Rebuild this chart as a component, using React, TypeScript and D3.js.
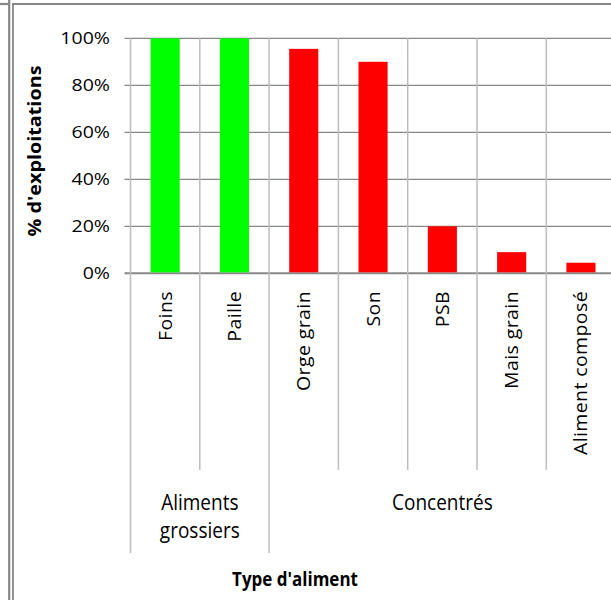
import * as d3 from 'd3';
import { useRef, useEffect } from 'react';

// Données
const categories = ['Foins', 'Paille', 'Orge grain', 'Son', 'PSB', 'Mais grain', 'Aliment composé'];
const values = [100, 100, 95.5, 90, 20, 9, 4.5];
const groupNames = ['Aliments grossiers', 'Concentrés'];
const groupOf = [0, 0, 1, 1, 1, 1, 1];
const groupColors = ['#00ff00', '#ff0000'];
const yTicks = [0, 20, 40, 60, 80, 100];

const FONT = '"Open Sans", "Noto Sans", sans-serif';

export default function App() {
  const svgRef = useRef<SVGSVGElement | null>(null);

  useEffect(() => {
    const width = 611;
    const height = 600;
    const plot = { left: 130.5, right: 615.6, top: 38.3, bottom: 273.3 };
    const catBottom = 470;
    const groupBottom = 553;

    d3.select(svgRef.current).selectAll('*').remove();
    const svg = d3.select(svgRef.current).attr('width', width).attr('height', height);

    svg.append('rect').attr('width', width).attr('height', height).attr('fill', '#fff');

    // Cadre
    const frame = '#878787';
    svg.append('line').attr('x1', 0).attr('x2', 10).attr('y1', 4).attr('y2', 4).attr('stroke', frame).attr('stroke-width', 2.2);
    svg.append('line').attr('x1', 12).attr('x2', width).attr('y1', 4).attr('y2', 4).attr('stroke', frame).attr('stroke-width', 2.2);
    svg.append('line').attr('x1', 9.2).attr('x2', 9.2).attr('y1', 0).attr('y2', height).attr('stroke', frame).attr('stroke-width', 2.2);
    svg.append('line').attr('x1', 13).attr('x2', 13).attr('y1', 3).attr('y2', height).attr('stroke', frame).attr('stroke-width', 1.8);

    const x = d3
      .scaleBand<string>()
      .domain(categories)
      .range([plot.left, plot.right])
      .paddingInner(0.58)
      .paddingOuter(0.29);
    const y = d3.scaleLinear().domain([0, 100]).range([plot.bottom, plot.top]);
    const step = x.step();
    const edge = (i: number) => (x(categories[i]) ?? 0) - (step * 0.58) / 2;

    // Quadrillage horizontal + graduations
    yTicks.forEach((t) => {
      svg
        .append('line')
        .attr('x1', plot.left - 6)
        .attr('x2', plot.right)
        .attr('y1', y(t))
        .attr('y2', y(t))
        .attr('stroke', '#878787')
        .attr('stroke-width', t === 0 ? 2 : 1.3);
      svg
        .append('text')
        .attr('transform', `translate(110,${y(t)}) scale(1.15,1)`)
        .attr('text-anchor', 'end')
        .attr('dy', '0.36em')
        .attr('font-family', FONT)
        .attr('font-size', '17px')
        .attr('fill', '#000')
        .text(`${t}%`);
    });

    // Séparateurs verticaux (catégories et groupes)
    const groupEdges = new Set<number>([0, categories.length]);
    groupOf.forEach((g, i) => {
      if (i > 0 && g !== groupOf[i - 1]) groupEdges.add(i);
    });
    d3.range(categories.length + 1).forEach((i) => {
      const xe = i === categories.length ? plot.right : edge(i);
      svg
        .append('line')
        .attr('x1', xe)
        .attr('x2', xe)
        .attr('y1', plot.top)
        .attr('y2', groupEdges.has(i) ? groupBottom : catBottom)
        .attr('stroke', '#bdbdbd')
        .attr('stroke-width', 1.5);
    });

    // Barres
    categories.forEach((c, i) => {
      svg
        .append('rect')
        .attr('x', x(c) ?? 0)
        .attr('y', y(values[i]))
        .attr('width', x.bandwidth())
        .attr('height', y(0) - y(values[i]) - 1)
        .attr('fill', groupColors[groupOf[i]]);
    });

    // Étiquettes des catégories (verticales)
    categories.forEach((c) => {
      const cx = (x(c) ?? 0) + x.bandwidth() / 2;
      svg
        .append('text')
        .attr('transform', `translate(${cx},291) rotate(-90) scale(1.08,1)`)
        .attr('text-anchor', 'end')
        .attr('dy', '0.36em')
        .attr('font-family', FONT)
        .attr('font-size', '18px')
        .attr('letter-spacing', '0.4px')
        .attr('fill', '#000')
        .text(c);
    });

    // Étiquettes des groupes
    groupNames.forEach((name, g) => {
      const idx = groupOf.map((v, i) => (v === g ? i : -1)).filter((i) => i >= 0);
      const x0 = edge(idx[0]);
      const last = idx[idx.length - 1];
      const x1 = last + 1 === categories.length ? plot.right : edge(last + 1);
      const lines = g === 0 ? ['Aliments', 'grossiers'] : [name];
      lines.forEach((ln, k) => {
        svg
          .append('text')
          .attr('transform', `translate(${(x0 + x1) / 2},${502 + k * 28}) scale(1,1.15)`)
          .attr('text-anchor', 'middle')
          .attr('dy', '0.36em')
          .attr('font-family', FONT)
          .attr('font-size', '19px')
          .attr('fill', '#000')
          .text(ln);
      });
    });

    // Titres des axes
    svg
      .append('text')
      .attr('transform', 'translate(35,151) rotate(-90) scale(1.1,1)')
      .attr('text-anchor', 'middle')
      .attr('dy', '0.36em')
      .attr('font-family', FONT)
      .attr('font-weight', 'bold')
      .attr('font-size', '18px')
      .attr('fill', '#000')
      .text("% d'exploitations");

    svg
      .append('text')
      .attr('transform', 'translate(295,579) scale(1,1.2)')
      .attr('text-anchor', 'middle')
      .attr('dy', '0.36em')
      .attr('font-family', FONT)
      .attr('font-weight', 'bold')
      .attr('font-size', '17px')
      .attr('fill', '#000')
      .text("Type d'aliment");
  }, []);

  return (
    <div style={{ position: 'absolute', left: 0, top: 0, width: 611, height: 600, overflow: 'hidden' }}>
      <svg ref={svgRef} style={{ display: 'block' }} />
    </div>
  );
}
